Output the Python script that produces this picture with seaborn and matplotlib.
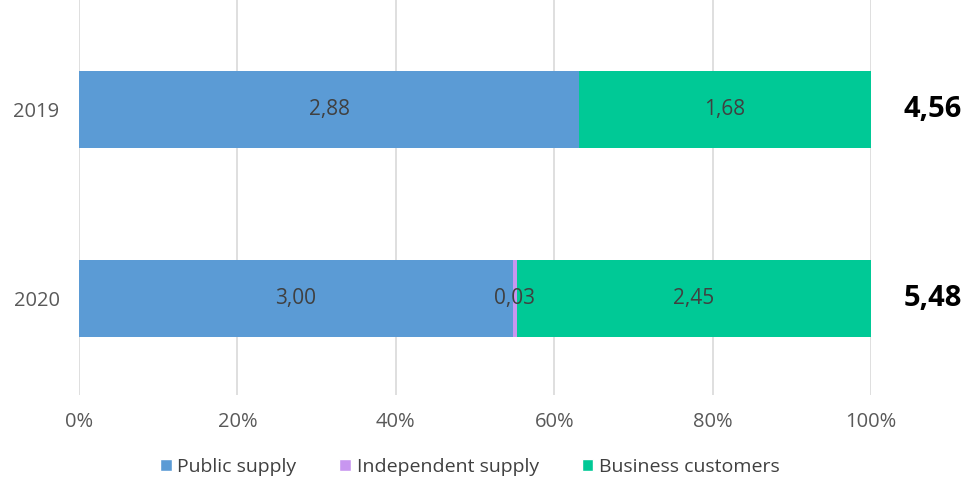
import matplotlib
matplotlib.use("Agg")
import matplotlib.pyplot as plt
import seaborn as sns
import pandas as pd
import numpy as np
from matplotlib.patches import Patch

years = ["2019", "2020"]
series = ["Public supply", "Independent supply", "Business customers"]
public = [2.88, 3.00]
independent = [0.0, 0.03]
business = [1.68, 2.45]
totals = ["4,56", "5,48"]
colors = ["#5B9BD5", "#C896F0", "#00C996"]

sns.set_theme(style="white")
plt.rcParams["font.family"] = ["Open Sans", "DejaVu Sans"]

vals = np.array([public, independent, business])
tot = vals.sum(axis=0)
pct = vals / tot * 100
cum = np.cumsum(pct, axis=0)

fig = plt.figure(figsize=(9.73, 4.82), dpi=100)
ax = fig.add_axes([79/973, 1-395/482, 792/973, 395/482])

for i in range(len(series) - 1, -1, -1):
    df = pd.DataFrame({"year": years, "val": cum[i]})
    sns.barplot(data=df, x="val", y="year", orient="h", color=colors[i],
                width=0.41, saturation=1, ax=ax, linewidth=0)

for j in range(len(years)):
    start = 0
    for i in range(len(series)):
        w = pct[i][j]
        if vals[i][j] > 0:
            ax.text(start + w/2, j, f"{vals[i][j]:.2f}".replace(".", ","),
                    ha="center", va="center", fontsize=15, color="#404040")
        start += w
    ax.text(107.8, j, totals[j], ha="center", va="center", fontsize=21,
            fontweight="bold", color="black", clip_on=False)

ax.set_xlim(0, 100)
ax.set_ylim(1 + 96.5/189, -109.5/189)
ax.set_xticks(np.arange(0, 101, 20))
ax.set_xticklabels([f"{v}%" for v in range(0, 101, 20)], fontsize=14.5, color="#595959")
ax.tick_params(axis="y", labelsize=14.5, labelcolor="#595959", length=0, pad=14)
ax.tick_params(axis="x", length=0, pad=12)
ax.set_xlabel("")
ax.set_ylabel("")
ax.grid(axis="x", color="#D9D9D9", linewidth=1.2)
ax.set_axisbelow(True)
for s in ax.spines.values():
    s.set_visible(False)

handles = [Patch(facecolor=c, label=l) for c, l in zip(colors, series)]
fig.legend(handles=handles, loc="center", bbox_to_anchor=(470/973, 1-467/482),
           ncol=3, frameon=False, fontsize=14, handlelength=0.6, handleheight=0.6,
           handletextpad=0.3, columnspacing=2.2, labelcolor="#404040")

fig.savefig("out.png", dpi=100)
